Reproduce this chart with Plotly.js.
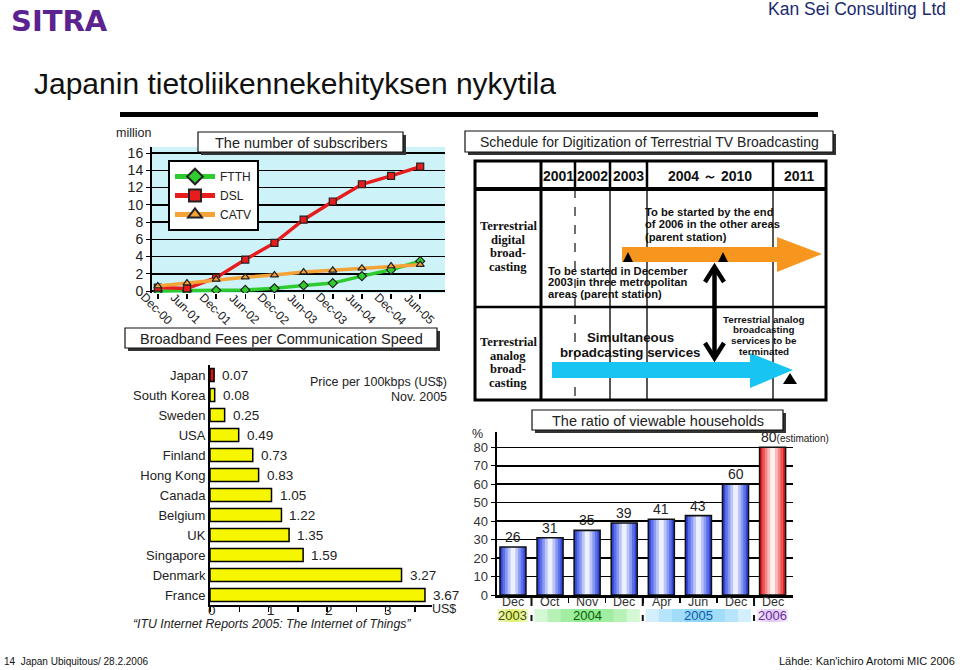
<!DOCTYPE html>
<html>
<head>
<meta charset="utf-8">
<script src="https://cdn.plot.ly/plotly-3.0.1.min.js"></script>
<style>html,body{margin:0;padding:0;background:#fff;}#chart{width:960px;height:670px;}</style>
</head>
<body>
<div id="chart"></div>
<script>
// ---------- DATA ----------
const periods = ['Dec-00','Jun-01','Dec-01','Jun-02','Dec-02','Jun-03','Dec-03','Jun-04','Dec-04','Jun-05'];
const ftth = [0.0, 0.0, 0.08, 0.12, 0.31, 0.65, 0.92, 1.73, 2.46, 3.46];
const dsl  = [0.4, 0.3, 1.54, 3.65, 5.58, 8.27, 10.38, 12.38, 13.35, 14.42];
const catv = [0.58, 0.92, 1.35, 1.6, 1.85, 2.2, 2.4, 2.65, 2.9, 3.05];

const countries = ['Japan','South Korea','Sweden','USA','Finland','Hong Kong','Canada','Belgium','UK','Singapore','Denmark','France'];
const prices = [0.07, 0.08, 0.25, 0.49, 0.73, 0.83, 1.05, 1.22, 1.35, 1.59, 3.27, 3.67];
const priceTickVals = [0, 0.5, 1, 1.5, 2, 2.5, 3, 3.5];
const priceTickText = ['0', '', '1', '', '2', '', '3', ''];

const ratioMonths = ['Dec','Oct','Nov','Dec','Apr','Jun','Dec','Dec'];
const ratioYears  = ['2003','2004','2004','2004','2005','2005','2005','2006'];
const ratioValues = [26, 31, 35, 39, 41, 43, 60, 80];
const ratioEstimated = [false,false,false,false,false,false,false,true];

const scheduleYears = ['2001','2002','2003','2004 ～ 2010','2011'];

// ---------- HELPERS ----------
const W = 960, H = 670;
const X = p => p / W;
const Y = p => 1 - p / H;
const FONT = 'Liberation Sans, Arial, sans-serif';
const shapes = [];
const annotations = [];

function txt(text, x, y, o) {
  o = o || {};
  annotations.push({
    text: text, xref: 'paper', yref: 'paper', x: X(x), y: Y(y),
    xanchor: o.anchor || 'center', yanchor: 'middle', showarrow: false,
    font: {family: o.family || FONT, size: o.size || 13, color: o.color || '#222', weight: o.weight || 'normal', style: o.style || 'normal'}
  });
}
function lines(arr, x, y0, lh, o) { arr.forEach((t, i) => txt(t, x, y0 + i * lh, o)); }
function rect(x0, y0, x1, y1, fill, lc, lw, layer) {
  shapes.push({type: 'rect', xref: 'paper', yref: 'paper', x0: X(x0), x1: X(x1), y0: Y(y0), y1: Y(y1),
    fillcolor: fill, line: {color: lc || 'rgba(0,0,0,0)', width: lw || 0}, layer: layer || 'above'});
}
function seg(x0, y0, x1, y1, color, width, dash) {
  shapes.push({type: 'line', xref: 'paper', yref: 'paper', x0: X(x0), x1: X(x1), y0: Y(y0), y1: Y(y1),
    line: {color: color, width: width, dash: dash || 'solid'}, layer: 'above'});
}
function path(pts, closed, fill, lc, lw) {
  const d = 'M' + pts.map(p => X(p[0]) + ',' + Y(p[1])).join(' L') + (closed ? ' Z' : '');
  shapes.push({type: 'path', xref: 'paper', yref: 'paper', path: d, fillcolor: fill || 'rgba(0,0,0,0)',
    line: {color: lc || 'rgba(0,0,0,0)', width: lw || 0}, layer: 'above'});
}
function titleBox(text, x0, y0, x1, y1, size) {
  rect(x0 + 3, y0 + 3, x1 + 3, y1 + 3, '#333', null, 0);
  rect(x0, y0, x1, y1, '#fff', '#111', 1.2);
  txt(text, (x0 + x1) / 2, (y0 + y1) / 2 + 0.5, {size: size, color: '#222'});
}

// ---------- HEADER / FOOTER ----------
txt('SITRA', 9, 21, {anchor: 'left', size: 29, color: '#5b2390', family: 'DejaVu Sans, sans-serif', weight: 'bold'});
txt('Kan Sei Consulting Ltd', 948, 9, {anchor: 'right', size: 17.5, color: '#1a2a6e'});
txt('Japanin tietoliikennekehityksen nykytila', 32, 84, {anchor: 'left', size: 30, color: '#111'});
seg(120, 114.5, 818, 114.5, '#000', 5);
txt('14  Japan Ubiquitous/ 28.2.2006', 2, 661, {anchor: 'left', size: 10, color: '#111'});
txt("Lähde: Kan'ichiro Arotomi MIC 2006", 957, 661, {anchor: 'right', size: 11, color: '#111'});

// ---------- CHART 1: subscribers ----------
rect(152, 147, 445, 293, '#cdf3f9', null, 0, 'below');
titleBox('The number of subscribers', 198, 132, 403, 152, 14.5);
txt('million', 133, 133, {size: 12.5, color: '#222'});
periods.forEach(p => annotations.push({
  text: p, xref: 'x', yref: 'paper', x: p, y: Y(309), xanchor: 'center', yanchor: 'middle', textangle: 45,
  xshift: -1, showarrow: false, font: {family: FONT, size: 12, color: '#222'}
}));
titleBox('Broadband Fees per Communication Speed', 125, 328, 437, 348, 14.5);

// ---------- CHART 2: prices ----------
txt('Price per 100kbps (US$)', 449, 382, {anchor: 'right', size: 12.5});
txt('Nov. 2005', 449, 397, {anchor: 'right', size: 12.5});
txt('US$', 444, 609, {size: 12.5});
txt('“ITU Internet Reports 2005: The Internet of Things”', 272, 624, {size: 12.3, style: 'italic'});
countries.forEach((c, i) => annotations.push({
  text: prices[i].toFixed(2), xref: 'x2', yref: 'y2', x: prices[i], y: c, xanchor: 'left', yanchor: 'middle',
  xshift: 6, showarrow: false, font: {family: FONT, size: 13.5, color: '#222'}
}));
priceTickVals.forEach((v, i) => { if (priceTickText[i]) annotations.push({
  text: priceTickText[i], xref: 'x2', yref: 'paper', x: v, y: Y(610), xanchor: 'center', yanchor: 'middle',
  xshift: 2, showarrow: false, font: {family: FONT, size: 13.5, color: '#222'}
}); });

// ---------- SCHEDULE ----------
titleBox('Schedule for Digitization of Terrestrial TV Broadcasting', 465, 131, 833, 152, 14);
const colEdges = [541, 575, 610, 647, 773, 826];
[575, 610, 647, 773].forEach(x => seg(x, 161, x, 189, '#000', 2.5));
seg(575, 189, 575, 400, '#222', 1.3, 'dash');
seg(610, 189, 610, 400, '#111', 1.4);
seg(647, 189, 647, 400, '#111', 1.4);
seg(773, 189, 773, 400, '#111', 1.4);
seg(475, 307, 826, 307, '#000', 2.5);
seg(475, 189, 826, 189, '#000', 4);
seg(541, 161, 541, 400, '#000', 3);
rect(475, 161, 826, 400, 'rgba(0,0,0,0)', '#000', 3);
scheduleYears.forEach((y, i) => txt(y, (colEdges[i] + colEdges[i + 1]) / 2, 176, {size: 14, weight: 'bold', color: '#111'}));
path([[622,247],[777,247],[777,237],[822,254],[777,272],[777,262],[622,262]], true, '#f7961e');
path([[552,362],[750,362],[750,353],[793,370],[750,388],[750,378],[552,378]], true, '#18c4f2');
path([[623,262],[628,252],[633,262]], true, '#000');
path([[718,262],[723,252],[728,262]], true, '#000');
path([[783,384],[790,373],[797,384]], true, '#000');
path([[714.5,268],[714.5,358]], false, null, '#000', 4.5);
path([[705,282],[714.5,267],[724,282]], false, null, '#000', 4.5);
path([[705,343],[714.5,358],[724,343]], false, null, '#000', 4.5);
const serifB = {family: 'Liberation Serif, Times New Roman, serif', size: 12.5, weight: 'bold', color: '#111'};
lines(['Terrestrial','digital','broad-','casting'], 508, 226, 13.7, serifB);
lines(['Terrestrial','analog','broad-','casting'], 508, 342, 13.7, serifB);
const smallB = {anchor: 'left', size: 11.2, weight: 'bold', color: '#111'};
lines(['To be started by the end','of 2006 in the other areas','(parent station)'], 643, 212, 12.3, smallB);
lines(['To be started in December','2003 in three metropolitan','areas (parent station)'], 546, 271, 11.3, smallB);
lines(['Simultaneous','broadcasting services'], 630, 337, 15, {size: 13.3, weight: 'bold', color: '#111'});
lines(['Terrestrial analog','broadcasting','services to be','terminated'], 764, 319, 10.8, {size: 9.8, weight: 'bold', color: '#111'});

// ---------- CHART 3: viewable households ----------
titleBox('The ratio of viewable households', 532, 410, 783, 430, 14.5);
txt('%', 477, 434, {size: 12.5});
ratioValues.forEach((v, i) => annotations.push({
  text: ratioEstimated[i] ? v + '<span style="font-size:10px">(estimation)</span>' : String(v),
  xref: 'x3', yref: 'y3', x: ratioEstimated[i] ? i - 0.36 : i, y: v,
  xanchor: ratioEstimated[i] ? 'left' : 'center', yanchor: 'bottom', yshift: 0, showarrow: false,
  font: {family: FONT, size: 14, color: '#222'}
}));
ratioMonths.forEach((m, i) => annotations.push({
  text: m, xref: 'x3', yref: 'paper', x: i, y: Y(601.5), xanchor: 'center', yanchor: 'middle',
  showarrow: false, font: {family: FONT, size: 12.5, color: '#333'}
}));
const yearStyle = {'2003': ['#4a4a00', '#d4ee50'], '2004': ['#0b5e0b', '#6fe46f'], '2005': ['#105aa8', '#6fcaf4'], '2006': ['#6a2a9a', '#dcb8ee']};
const groups = [];
ratioYears.forEach((y, i) => {
  const g = groups.find(q => q.year === y);
  if (g) g.last = i; else groups.push({year: y, first: i, last: i});
});
groups.forEach((g, gi) => {
  const c = (g.first + g.last) / 2;
  const half = (g.last - g.first) / 2 + 0.42;
  [1, 0.75, 0.5, 0.25].forEach(f => shapes.push({type: 'rect', xref: 'x3', yref: 'paper',
    x0: c - half * f, x1: c + half * f, y0: Y(622), y1: Y(609),
    fillcolor: yearStyle[g.year][1], opacity: 0.3, line: {width: 0}, layer: 'below'}));
  annotations.push({text: g.year, xref: 'x3', yref: 'paper', x: c, y: Y(615.5), xanchor: 'center', yanchor: 'middle',
    showarrow: false, font: {family: FONT, size: 13, color: yearStyle[g.year][0]}});
  if (gi > 0) shapes.push({type: 'line', xref: 'x3', yref: 'paper', x0: g.first - 0.5, x1: g.first - 0.5,
    y0: Y(597), y1: Y(621), line: {color: '#111', width: 2, dash: 'dash'}});
});

// ---------- TRACES ----------
const traces = [
  {type: 'scatter', mode: 'lines+markers', name: 'FTTH', x: periods, y: ftth, xaxis: 'x', yaxis: 'y',
   line: {color: '#2fcc2f', width: 3.5}, marker: {symbol: 'diamond', size: 7, color: '#2fcc2f', line: {color: '#222', width: 1.2}}},
  {type: 'scatter', mode: 'lines+markers', name: 'DSL', x: periods, y: dsl, xaxis: 'x', yaxis: 'y',
   line: {color: '#e81c1c', width: 3.5}, marker: {symbol: 'square', size: 7, color: '#e81c1c', line: {color: '#222', width: 1.2}}},
  {type: 'scatter', mode: 'lines+markers', name: 'CATV', x: periods, y: catv, xaxis: 'x', yaxis: 'y',
   line: {color: '#f5a236', width: 3.5}, marker: {symbol: 'triangle-up', size: 7, color: '#f5a236', line: {color: '#222', width: 1.2}}},
  {type: 'bar', orientation: 'h', x: prices, y: countries, xaxis: 'x2', yaxis: 'y2', width: 0.66, showlegend: false,
   marker: {color: countries.map(c => c === 'Japan' ? '#e01010' : '#f6f600'), line: {color: '#000', width: 1.5}}}
];
const xIdx = ratioValues.map((_, i) => i);
const blueLayers = ['#3446df', '#5c70ea', '#8a9af1', '#bac5f8', '#edf0fe'];
const redLayers  = ['#e42020', '#ec5252', '#f28888', '#f8bcbc', '#fff0f0'];
const layerWidths = [0.7, 0.56, 0.42, 0.28, 0.13];
layerWidths.forEach((w, k) => traces.push({
  type: 'bar', x: xIdx, y: ratioValues, xaxis: 'x3', yaxis: 'y3', width: w, showlegend: false,
  marker: {color: ratioEstimated.map(e => e ? redLayers[k] : blueLayers[k]), line: {width: 0}}
}));
traces.push({type: 'bar', x: xIdx, y: ratioValues, xaxis: 'x3', yaxis: 'y3', width: 0.7, showlegend: false,
  marker: {color: 'rgba(0,0,0,0)', line: {color: '#111', width: 1.6}}});

const axFont = {family: FONT, size: 13, color: '#222'};
const layout = {
  width: W, height: H, margin: {l: 0, r: 0, t: 0, b: 0},
  paper_bgcolor: '#fff', plot_bgcolor: 'rgba(0,0,0,0)',
  barmode: 'overlay', hovermode: false, font: {family: FONT},
  showlegend: true,
  legend: {x: X(168), y: Y(160), xanchor: 'left', yanchor: 'top', bgcolor: '#fff', bordercolor: '#000', borderwidth: 2,
    font: {family: FONT, size: 12, color: '#222'}, itemsizing: 'constant', itemwidth: 40, tracegroupgap: 0},
  xaxis: {domain: [X(152), X(445)], anchor: 'y', type: 'category', range: [-0.2, 9.85], showgrid: false, zeroline: false,
    showline: false, ticks: 'outside', ticklen: 5, tickcolor: '#000', tickwidth: 1.5, showticklabels: false},
  yaxis: {domain: [Y(293), Y(147)], anchor: 'x', range: [-0.23, 16.7], dtick: 2, tick0: 0, showgrid: true, gridcolor: '#000', gridwidth: 1.5,
    zeroline: false, showline: true, linecolor: '#000', linewidth: 2, ticks: 'outside', ticklen: 4, tickcolor: '#000',
    tickfont: {family: FONT, size: 14, color: '#222'}},
  xaxis2: {domain: [X(210), X(432)], anchor: 'y2', range: [0, 3.79], tickvals: priceTickVals, ticktext: priceTickText,
    showticklabels: false, ticks: 'outside', ticklen: 5, tickcolor: '#000', tickwidth: 1.5, showline: true, linecolor: '#000', linewidth: 2,
    showgrid: false, zeroline: false},
  yaxis2: {domain: [Y(605), Y(365)], anchor: 'x2', type: 'category', autorange: 'reversed', showline: true, linecolor: '#000',
    linewidth: 2, showgrid: false, zeroline: false, ticks: '', tickfont: axFont},
  xaxis3: {domain: [X(497), X(793)], anchor: 'y3', range: [-0.43, 7.55], tickvals: xIdx.slice(1).map(i => i - 0.5),
    showticklabels: false, ticks: 'outside', ticklen: 5, tickcolor: '#000', tickwidth: 1.5,
    showline: true, linecolor: '#000', linewidth: 2.5, showgrid: false, zeroline: false},
  yaxis3: {domain: [Y(595), Y(432)], anchor: 'x3', range: [0, 88.3], tickvals: [0,10,20,30,40,50,60,70,80],
    showgrid: true, gridcolor: '#000', gridwidth: 1.5, showline: true, linecolor: '#000', linewidth: 2.5, zeroline: false,
    ticks: 'outside', ticklen: 4, tickcolor: '#000', tickfont: {family: FONT, size: 13, color: '#333'}},
  shapes: shapes, annotations: annotations
};
Plotly.newPlot('chart', traces, layout, {staticPlot: true, displayModeBar: false});
</script>
</body>
</html>
